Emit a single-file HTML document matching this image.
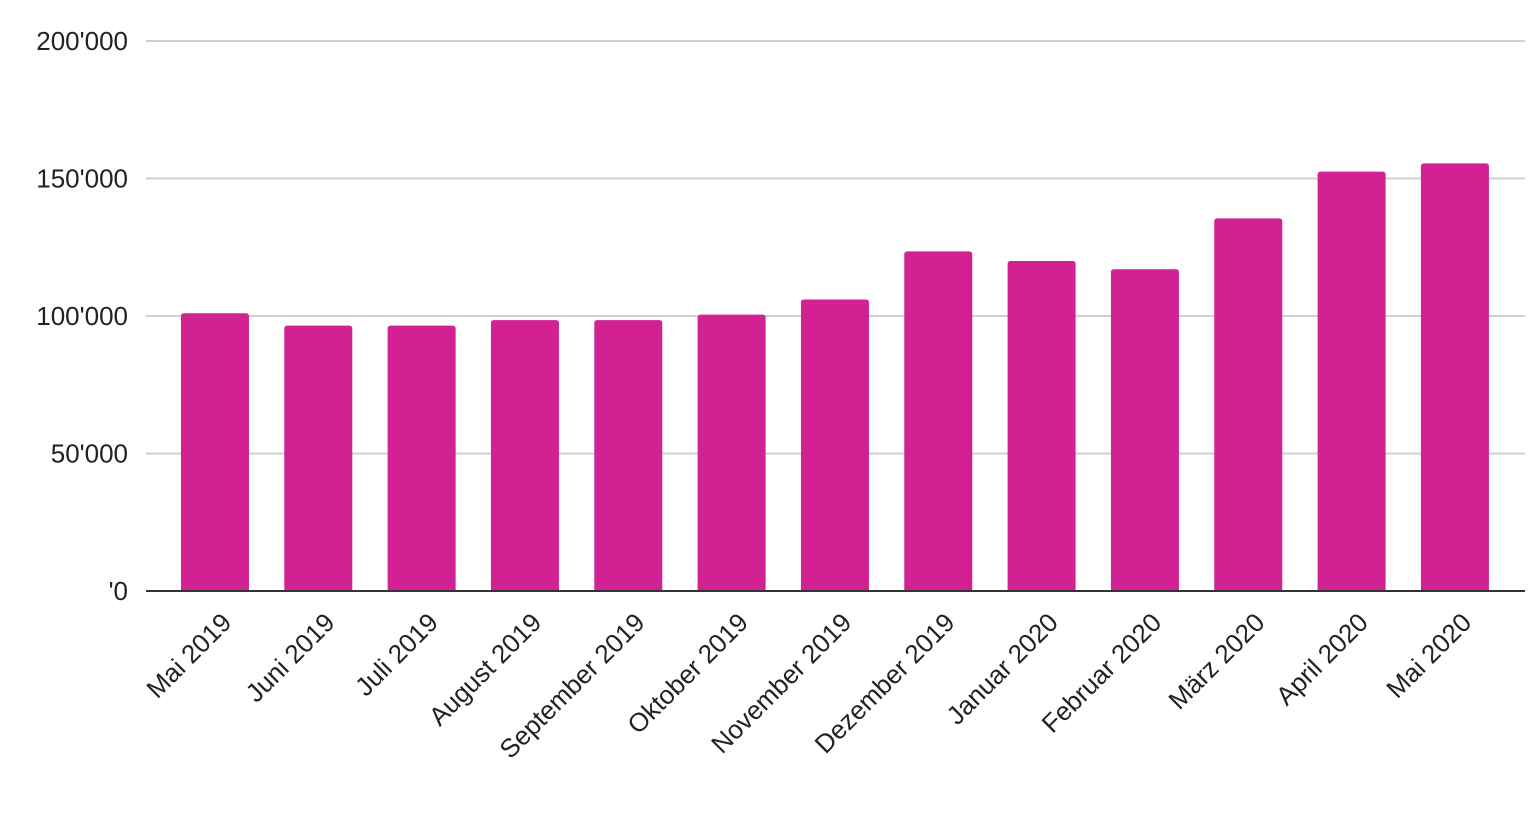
<!DOCTYPE html>
<html><head><meta charset="utf-8"><style>
html,body{margin:0;padding:0;background:#fff;}
svg{display:block;font-family:"Liberation Sans",Arial,sans-serif;}
</style></head><body>
<svg id="chart" width="1536" height="821" viewBox="0 0 1536 821"></svg>
<script>
const categories=["Mai 2019","Juni 2019","Juli 2019","August 2019","September 2019","Oktober 2019","November 2019","Dezember 2019","Januar 2020","Februar 2020","März 2020","April 2020","Mai 2020"];
const values=[101000,96500,96500,98500,98500,100500,106000,123500,120000,117000,135500,152500,155500];
const yTicks=[0,50000,100000,150000,200000];
const yTickLabels=["'0","50'000","100'000","150'000","200'000"];
const NS="http://www.w3.org/2000/svg";
const svg=document.getElementById('chart');
const plotL=146,plotR=1525,y0=591,yTop=41,yMax=200000;
const bandL=163.3,band=103.33,barW=68;
function y(v){return y0-(v/yMax)*(y0-yTop);}
function xc(i){return bandL+band*(i+0.5);}
function mk(t,a){const e=document.createElementNS(NS,t);for(const k in a)e.setAttribute(k,a[k]);svg.appendChild(e);return e;}
yTicks.forEach((t,i)=>{
  if(t!==0){const g=mk('line',{x1:plotL,x2:plotR,y1:y(t),y2:y(t),stroke:'#d0d0d0','stroke-width':2});
  
  }
  const l=mk('text',{x:128,y:y(t)+9,'text-anchor':'end','font-size':26,fill:'#222'});
  l.textContent=yTickLabels[i];
  
  
});
values.forEach((v,i)=>{
  const top=y(v),x=xc(i)-barW/2;
  const b=mk('path',{d:`M${x},${y0}V${top+3}Q${x},${top} ${x+3},${top}H${x+barW-3}Q${x+barW},${top} ${x+barW},${top+3}V${y0}Z`,fill:'#d12193'});
  
  
  const t=mk('text',{x:xc(i)+18,y:624,'text-anchor':'end','font-size':26,fill:'#222',transform:`rotate(-45 ${xc(i)+18} 624)`});
  t.textContent=categories[i];
  
  
});
const ax=mk('line',{x1:plotL,x2:plotR,y1:y0,y2:y0,stroke:'#333','stroke-width':2});


</script>
</body></html>
